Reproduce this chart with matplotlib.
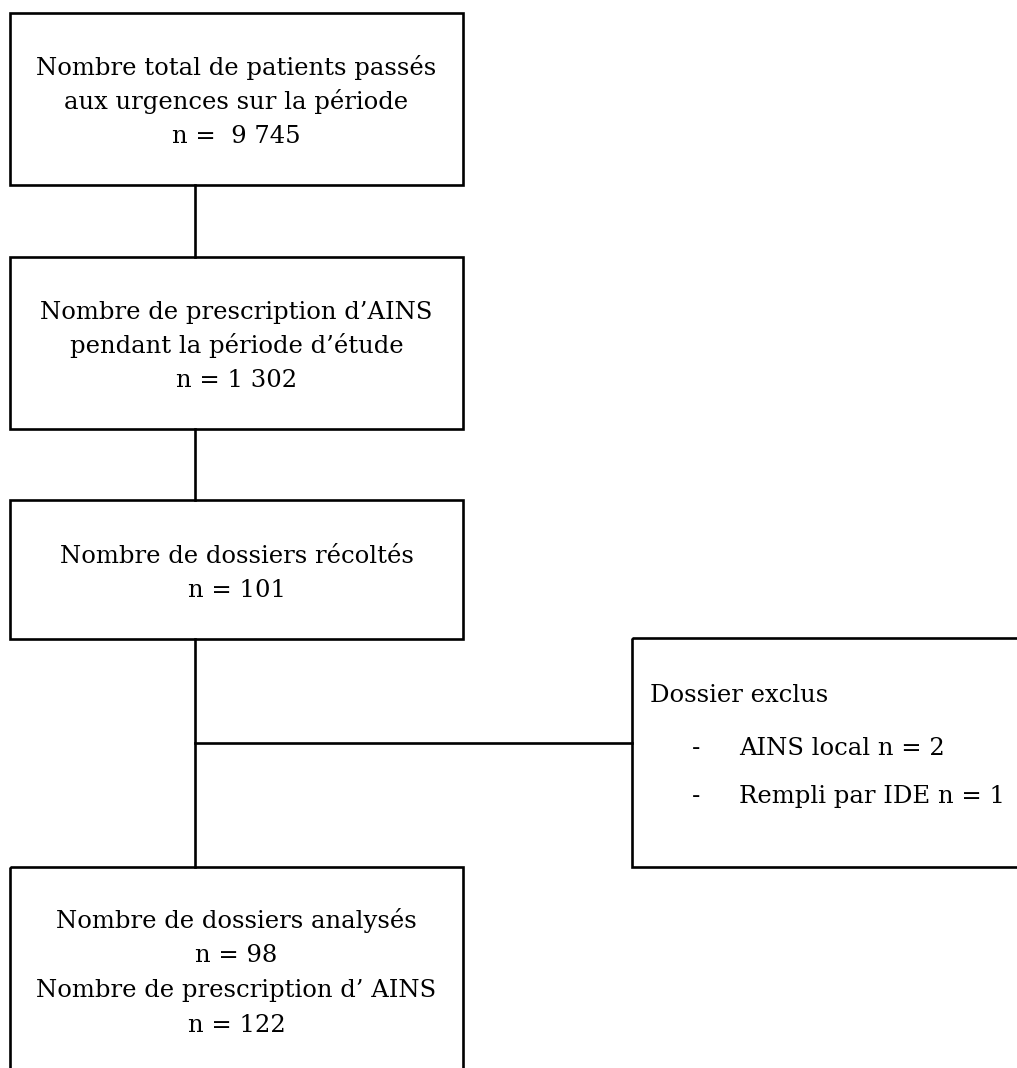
import matplotlib
matplotlib.use('Agg')
import matplotlib.pyplot as plt
from matplotlib.patches import Rectangle

# box texts, top to bottom
box1_lines = ["Nombre total de patients passés", "aux urgences sur la période", "n =  9 745"]
box2_lines = ["Nombre de prescription d’AINS", "pendant la période d’étude", "n = 1 302"]
box3_lines = ["Nombre de dossiers récoltés", "n = 101"]
box4_lines = ["Nombre de dossiers analysés", "n = 98", "Nombre de prescription d’ AINS", "n = 122"]
excl_title = "Dossier exclus"
excl_items = ["AINS local n = 2", "Rempli par IDE n = 1"]

W, H = 1017, 1068
fig = plt.figure(figsize=(W / 100, H / 100), dpi=100)
ax = fig.add_axes([0, 0, 1, 1])
ax.set_xlim(0, W)
ax.set_ylim(H, 0)
ax.axis('off')

lw = 1.9
fs = 17.5
font = 'DejaVu Serif'

# main column boxes, pixel space
left, right = 10, 463
cx = 195
boxes = [(13, 185), (257, 429), (500, 639), (867, 1100)]
for y0, y1 in boxes:
    ax.add_patch(Rectangle((left, y0), right - left, y1 - y0, fill=False,
                           edgecolor='black', lw=lw))

# connectors
ax.plot([cx, cx], [185, 257], color='black', lw=lw)
ax.plot([cx, cx], [429, 500], color='black', lw=lw)
ax.plot([cx, cx], [639, 867], color='black', lw=lw)
ax.plot([cx, 632], [743, 743], color='black', lw=lw)

# exclusion box, runs off the right edge
ax.add_patch(Rectangle((632, 638), 500, 867 - 638, fill=False,
                       edgecolor='black', lw=lw))

tx = (left + right) / 2
baselines = [[75, 109, 143], [319, 353, 387], [563, 597], [928, 962, 997, 1032]]
for lines, bl in zip([box1_lines, box2_lines, box3_lines, box4_lines], baselines):
    for s, y in zip(lines, bl):
        ax.text(tx, y, s, ha='center', va='baseline', fontsize=fs, family=font)

ax.text(650, 702, excl_title, ha='left', va='baseline', fontsize=fs, family=font)
for s, y in zip(excl_items, [755, 803]):
    ax.text(692, y, "-", ha='left', va='baseline', fontsize=fs, family=font)
    ax.text(739, y, s, ha='left', va='baseline', fontsize=fs, family=font)

fig.savefig('out.png', dpi=100)
